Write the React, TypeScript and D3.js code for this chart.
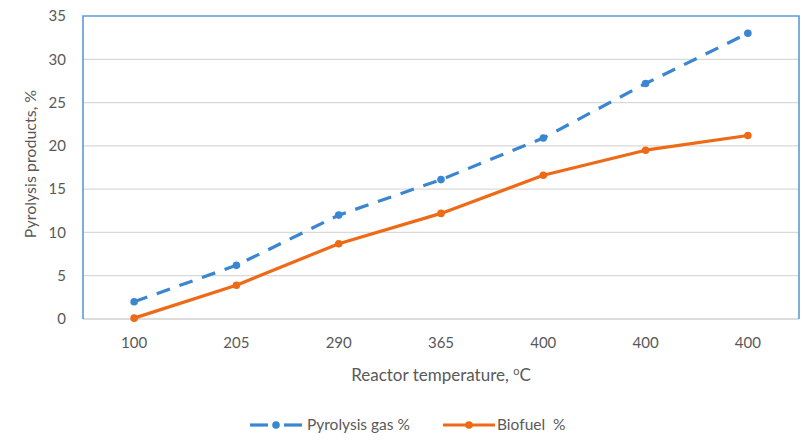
import { scaleBand, scaleLinear, line } from "d3";

const temperatures = ["100", "205", "290", "365", "400", "400", "400"];
const gasValues = [2, 6.2, 12, 16.1, 20.9, 27.2, 33];
const biofuelValues = [0.1, 3.9, 8.7, 12.2, 16.6, 19.5, 21.2];
const yTicks = [0, 5, 10, 15, 20, 25, 30, 35];

const BLUE = "#3a86d0";
const ORANGE = "#ed6a16";
const TEXT = "#595959";
const FONT = "Lato, 'Open Sans', sans-serif";

export default function App() {
  const width = 805;
  const height = 444;
  const MARGIN = { left: 83, top: 16, right: 6, bottom: 125 };
  const boundsWidth = width - MARGIN.left - MARGIN.right;
  const boundsHeight = height - MARGIN.top - MARGIN.bottom;

  const idx = temperatures.map((_, i) => String(i));
  const xScale = scaleBand().domain(idx).range([0, boundsWidth]);
  const yScale = scaleLinear().domain([0, 35]).range([boundsHeight, 0]);
  const cx = (i: number) => (xScale(String(i)) ?? 0) + xScale.bandwidth() / 2;

  const pathGen = line<number>()
    .x((_, i) => cx(i))
    .y((d) => yScale(d));

  const series = [
    { name: "Pyrolysis gas %", values: gasValues, color: BLUE, dash: "14 10" },
    { name: "Biofuel  %", values: biofuelValues, color: ORANGE, dash: undefined },
  ];

  return (
    <svg
      width={width}
      height={height}
      style={{ position: "absolute", left: 0, top: 0, background: "#fff" }}
      fontFamily={FONT}
    >
      <g transform={`translate(${MARGIN.left},${MARGIN.top})`}>
        {yTicks.map((t) => (
          <g key={t}>
            {t > 0 && t < 35 && (
              <line x1={0} x2={boundsWidth} y1={yScale(t)} y2={yScale(t)} stroke="#d9d9d9" strokeWidth={1.3} />
            )}
            <text x={-17} y={yScale(t)} dy="0.35em" textAnchor="end" fontSize={15} fill={TEXT}>
              {t}
            </text>
          </g>
        ))}
        <line x1={0} x2={boundsWidth} y1={boundsHeight} y2={boundsHeight} stroke="#d0d0d0" strokeWidth={1.3} />
        <path
          d={`M0,${boundsHeight} V0 H${boundsWidth} V${boundsHeight}`}
          fill="none"
          stroke="#5b9bd5"
          strokeWidth={1.6}
        />
        {series.map((s) => (
          <g key={s.name}>
            <path
              d={pathGen(s.values) ?? ""}
              fill="none"
              stroke={s.color}
              strokeWidth={3.2}
              strokeDasharray={s.dash}
              strokeLinejoin="round"
            />
            {s.values.map((v, i) => (
              <circle key={i} cx={cx(i)} cy={yScale(v)} r={3.8} fill={s.color} />
            ))}
          </g>
        ))}
        {temperatures.map((t, i) => (
          <text key={i} x={cx(i)} y={boundsHeight + 29} textAnchor="middle" fontSize={15} fill={TEXT}>
            {t}
          </text>
        ))}
        <text x={boundsWidth / 2 + 0} y={boundsHeight + 62} textAnchor="middle" fontSize={17} fill={TEXT}>
          Reactor temperature, <tspan dy={-6} fontSize={11}>o</tspan>
          <tspan dy={6}>C</tspan>
        </text>
      </g>
      <text
        transform={`translate(30,${MARGIN.top + 148}) rotate(-90)`}
        textAnchor="middle"
        dy="0.35em"
        fontSize={16}
        fill={TEXT}
      >
        Pyrolysis products, %
      </text>
      <g transform="translate(250,425)">
        <line x1={0} x2={18} y1={0} y2={0} stroke={BLUE} strokeWidth={3.2} />
        <circle cx={26} cy={0} r={3.8} fill={BLUE} />
        <line x1={34} x2={52} y1={0} y2={0} stroke={BLUE} strokeWidth={3.2} />
        <text x={57} y={0} dy="0.35em" fontSize={15.5} fill={TEXT}>Pyrolysis gas %</text>
        <line x1={193} x2={245} y1={0} y2={0} stroke={ORANGE} strokeWidth={3.2} />
        <circle cx={219} cy={0} r={3.8} fill={ORANGE} />
        <text x={247} y={0} dy="0.35em" fontSize={15.5} fill={TEXT} style={{ whiteSpace: "pre" }}>Biofuel  %</text>
      </g>
    </svg>
  );
}
